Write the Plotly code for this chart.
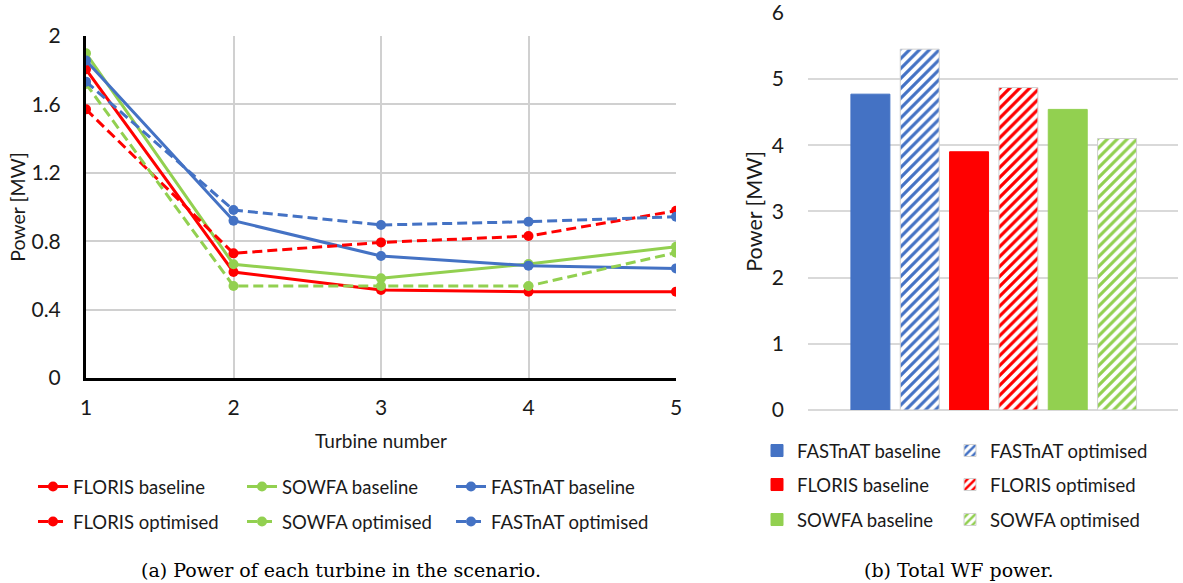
import plotly.graph_objects as go

turbines = [1, 2, 3, 4, 5]
floris_base = [1.805, 0.62, 0.515, 0.505, 0.505]
floris_opt = [1.571, 0.729, 0.793, 0.830, 0.978]
sowfa_base = [1.899, 0.665, 0.583, 0.667, 0.768]
sowfa_opt = [1.72, 0.538, 0.538, 0.538, 0.733]
fastnat_base = [1.856, 0.920, 0.713, 0.657, 0.641]
fastnat_opt = [1.733, 0.982, 0.895, 0.914, 0.943]

bar_names = ["FASTnAT baseline", "FASTnAT optimised", "FLORIS baseline",
             "FLORIS optimised", "SOWFA baseline", "SOWFA optimised"]
bar_values = [4.77, 5.45, 3.90, 4.87, 4.54, 4.10]

RED = "#FF0000"
GREEN = "#92D050"
BLUE = "#4472C4"
FONT = "Lato"
TXT = "#1a1a1a"
W, H = 1183, 583

def px(x):
    return x / W

def py(y):
    return (H - y) / H

fig = go.Figure()

line_series = [
    ("FLORIS baseline", floris_base, RED, "solid", "legend"),
    ("SOWFA baseline", sowfa_base, GREEN, "solid", "legend"),
    ("FASTnAT baseline", fastnat_base, BLUE, "solid", "legend"),
    ("FLORIS optimised", floris_opt, RED, "10px,5px", "legend2"),
    ("SOWFA optimised", sowfa_opt, GREEN, "10px,5px", "legend2"),
    ("FASTnAT optimised", fastnat_opt, BLUE, "10px,5px", "legend2"),
]
for name, vals, col, dash, leg in line_series:
    fig.add_trace(go.Scatter(
        x=turbines, y=vals, name=name, mode="lines+markers",
        line=dict(color=col, width=3, dash=dash),
        marker=dict(color=col, size=10),
        xaxis="x", yaxis="y", legend=leg,
    ))

bar_colors = [BLUE, BLUE, RED, RED, GREEN, GREEN]
bar_legends = ["legend3", "legend6", "legend4", "legend7", "legend5", "legend8"]
for i, (name, val) in enumerate(zip(bar_names, bar_values)):
    col = bar_colors[i]
    optimised = "optimised" in name
    marker = dict(color=col, line=dict(color="#d0d0d0" if optimised else col, width=1))
    if optimised:
        marker["pattern"] = dict(shape="/", fgcolor=col, bgcolor="white", size=7,
                                 solidity=0.45, fgopacity=1)
    fig.add_trace(go.Bar(
        x=[name], y=[val], name=name, marker=marker,
        xaxis="x2", yaxis="y2", legend=bar_legends[i],
    ))

legend_common = dict(orientation="h", font=dict(family=FONT, size=18.5, color=TXT),
                     bgcolor="rgba(0,0,0,0)", yanchor="middle", xanchor="left",
                     tracegroupgap=0, itemclick=False)
bar_leg = dict(itemwidth=30, **legend_common)

fig.update_layout(
    width=W, height=H,
    margin=dict(l=0, r=0, t=0, b=0, pad=0),
    paper_bgcolor="white", plot_bgcolor="white",
    font=dict(family=FONT, color=TXT),
    barmode="overlay", bargap=0.21,
    xaxis=dict(domain=[px(86), px(676)], range=[1, 5], dtick=1, tick0=1,
               showgrid=True, gridcolor="#d0d0d0", gridwidth=2,
               showline=True, linecolor="black", linewidth=3, zeroline=False,
               ticks="", tickfont=dict(size=21, family=FONT), ticklabelstandoff=9,
               title=dict(text="Turbine number", font=dict(size=19, family=FONT), standoff=17),
               anchor="y", automargin=False, ticklabeloverflow="allow"),
    yaxis=dict(domain=[py(378), py(36)], range=[0, 2], dtick=0.4, tick0=0,
               showgrid=True, gridcolor="#d0d0d0", gridwidth=2,
               showline=True, linecolor="black", linewidth=3, zeroline=False,
               ticks="", tickfont=dict(size=21, family=FONT), ticklabelstandoff=18,
               title=dict(text="Power [MW]", font=dict(size=19.5, family=FONT), standoff=1),
               anchor="x", automargin=False, ticklabeloverflow="allow"),
    xaxis2=dict(domain=[px(808), px(1178)], range=[-1.265, 6.235],
                showticklabels=False, showgrid=False, showline=False, zeroline=False,
                ticks="", anchor="y2", fixedrange=True, automargin=False),
    yaxis2=dict(domain=[py(410), py(12.7)], range=[0, 6.0005],
                tickvals=[0, 1, 2, 3, 4, 5, 6],
                showgrid=True, gridcolor="#d9d9d9", gridwidth=2,
                showline=False, zeroline=True, zerolinecolor="#d9d9d9", zerolinewidth=2,
                ticks="", tickfont=dict(size=21, family=FONT), ticklabelstandoff=23,
                title=dict(text="Power [MW]", font=dict(size=21.5, family=FONT), standoff=3),
                anchor="x2", automargin=False, ticklabeloverflow="allow"),
    legend=dict(x=px(33), y=py(487), entrywidth=164, **legend_common),
    legend2=dict(x=px(33), y=py(522), entrywidth=164, **legend_common),
    legend3=dict(x=px(757), y=py(451), **bar_leg),
    legend4=dict(x=px(757), y=py(485), **bar_leg),
    legend5=dict(x=px(757), y=py(520), **bar_leg),
    legend6=dict(x=px(950), y=py(451), **bar_leg),
    legend7=dict(x=px(950), y=py(485), **bar_leg),
    legend8=dict(x=px(950), y=py(520), **bar_leg),
    annotations=[
        dict(text="(a) Power of each turbine in the scenario.", x=px(341), y=py(570),
             xref="paper", yref="paper", showarrow=False, xanchor="center", yanchor="middle",
             font=dict(family="DejaVu Serif", size=19, color="black")),
        dict(text="(b) Total WF power.", x=px(959), y=py(570),
             xref="paper", yref="paper", showarrow=False, xanchor="center", yanchor="middle",
             font=dict(family="DejaVu Serif", size=19, color="black")),
    ],
)

fig.write_html("out.html", config={"displayModeBar": False},
               post_script="document.body.style.margin='0';")
